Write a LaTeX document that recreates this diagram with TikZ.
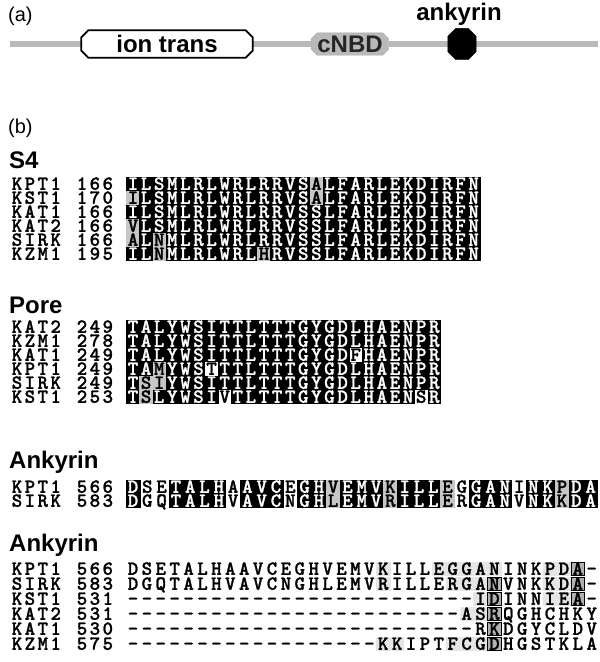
\documentclass[tikz,border=0pt]{standalone}
\usepackage{fontspec}
\setmainfont{Liberation Sans}
\newfontfamily\seqff{lmmonolt10-bold.otf}[FakeBold=1.2]
\pgfdeclarelayer{back}
\pgfsetlayers{back,main}
\newcommand\seqfont{\seqff\fontsize{20}{20}\selectfont}
\newcount\colidx
\def\rep#1#2{\ifnum#1>0 #2\expandafter\rep\expandafter{\the\numexpr#1-1\relax}{#2}\fi}
\newcommand\seqrow[6]{\def\rowid{#1}\def\rowx{#2}\def\rowy{#3}\def\rowdx{#4}\colidx=0
  \edef\tmprow{\noexpand\seqloop#5\relax#6\relax}\tmprow}
\def\seqloop#1#2\relax#3#4\relax{%
  \pgfmathsetmacro\cx{\rowx+\the\colidx*\rowdx}%
  \edef\cellname{\rowid-\the\colidx}%
  \node[cell,cell#3,minimum width=\rowdx pt-0.5pt] (\cellname) at (\cx,\rowy) {#1};%
  \advance\colidx by 1\relax
  \ifx\relax#2\relax\else\seqloop#2\relax#4\relax\fi}
\newcommand\namerow[4]{\seqrow{#1n}{17}{#2}{12.9}{#3}{wwww}\seqrow{#1m}{82}{#2}{12.9}{#4}{www}}
\newcommand\octo[3]{\draw[#3] ([xshift=#2]#1.north west) -- ([xshift=-#2]#1.north east) -- ([yshift=-#2]#1.north east) -- ([yshift=#2]#1.south east) -- ([xshift=-#2]#1.south east) -- ([xshift=#2]#1.south west) -- ([yshift=#2]#1.south west) -- ([yshift=-#2]#1.north west) -- cycle;}
\begin{document}
\begin{tikzpicture}[x=1pt,y=-1pt,
  cell/.style={inner sep=0pt,outer sep=0pt,minimum height=13.4pt,text height=11.5pt,text depth=0pt,font=\seqfont},
  cellw/.style={}, cellb/.style={fill=black,draw=black,line width=0.7pt,text=white},
  cellg/.style={fill=gray!45,draw=gray!45,line width=0.7pt},
  celll/.style={fill=gray!20,draw=gray!20,line width=0.7pt},
  cellx/.style={fill=gray!60,draw=black,line width=1.2pt},
  hdr/.style={anchor=west,inner sep=0pt,font=\bfseries\fontsize{24}{24}\selectfont},
  lbl/.style={anchor=west,inner sep=0pt,font=\fontsize{20}{20}\selectfont},
  dom/.style={inner sep=0pt,font=\bfseries\fontsize{24}{24}\selectfont}]
\useasboundingbox (0,0) rectangle (600,662);
% panel a
\node[lbl] (la) at (8,16) {(a)};
\coordinate (b0) at (10,44);
\coordinate (b1) at (598,44);
\node[dom,minimum width=171pt,minimum height=27pt] (ion) at (167,44) {ion trans};
\node[dom,minimum width=77pt,minimum height=22pt,text=black!85] (cnbd) at (350,44) {cNBD};
\node[inner sep=0pt,minimum width=28pt,minimum height=31pt] (ank) at (462,44) {};
\node[dom] (anklbl) at (459,14) {ankyrin};
\begin{pgfonlayer}{back}
\draw[line width=5.5pt,gray!55] (b0) -- (ion) (ion) -- (cnbd) (cnbd) -- (ank) (ank) -- (b1);
\octo{ion}{7pt}{draw=black,line width=1.8pt,fill=white}
\octo{cnbd}{6pt}{draw=gray!70,fill=gray!55}
\octo{ank}{8pt}{fill=black}
\end{pgfonlayer}
% panel b
\node[lbl] (lb) at (8,128) {(b)};
\node[hdr] (hs4) at (9,160) {S4};
\namerow{s4a}{184}{KPT1}{166}
\seqrow{s4a}{133}{184}{13.1}{ILSMLRLWRLRRVSALFARLEKDIRFN}{\rep{14}{b}g\rep{12}{b}}
\namerow{s4b}{198}{KST1}{170}
\seqrow{s4b}{133}{198}{13.1}{ILSMLRLWRLRRVSALFARLEKDIRFN}{g\rep{13}{b}g\rep{12}{b}}
\namerow{s4c}{212}{KAT1}{166}
\seqrow{s4c}{133}{212}{13.1}{ILSMLRLWRLRRVSSLFARLEKDIRFN}{\rep{27}{b}}
\namerow{s4d}{226}{KAT2}{166}
\seqrow{s4d}{133}{226}{13.1}{VLSMLRLWRLRRVSSLFARLEKDIRFN}{g\rep{26}{b}}
\namerow{s4e}{240}{SIRK}{166}
\seqrow{s4e}{133}{240}{13.1}{ALNMLRLWRLRRVSSLFARLEKDIRFN}{gbg\rep{24}{b}}
\namerow{s4f}{254}{KZM1}{195}
\seqrow{s4f}{133}{254}{13.1}{ILNMLRLWRLHRVSSLFARLEKDIRFN}{bbg\rep{7}{b}g\rep{16}{b}}
% pore
\node[hdr] (hpore) at (9,305) {Pore};
\namerow{pa}{327}{KAT2}{249}
\seqrow{pa}{133}{327}{13.1}{TALYWSITTLTTTGYGDLHAENPR}{\rep{24}{b}}
\namerow{pb}{341}{KZM1}{278}
\seqrow{pb}{133}{341}{13.1}{TALYWSITTLTTTGYGDLHAENPR}{\rep{24}{b}}
\namerow{pc}{355}{KAT1}{249}
\seqrow{pc}{133}{355}{13.1}{TALYWSITTLTTTGYGDFHAENPR}{\rep{17}{b}w\rep{6}{b}}
\namerow{pd}{369}{KPT1}{249}
\seqrow{pd}{133}{369}{13.1}{TAMYWSTTTLTTTGYGDLHAENPR}{bbgbbbw\rep{17}{b}}
\namerow{pe}{383}{SIRK}{249}
\seqrow{pe}{133}{383}{13.1}{TSIYWSITTLTTTGYGDLHAENPR}{bgg\rep{21}{b}}
\namerow{pf}{397}{KST1}{253}
\seqrow{pf}{133}{397}{13.1}{TSLYWSIVTLTTTGYGDLHAENSR}{bg\rep{5}{b}w\rep{14}{b}wb}
% ankyrin 1
\node[hdr] (hank1) at (9,462) {Ankyrin};
\namerow{aa}{487}{KPT1}{566}
\seqrow{aa}{133}{487}{14.3}{DSETALHAAVCEGHVEMVKILLEGGANINKPDA}{bwwbbbbwbbbwbbgbbbgbbbgwbbbwbbgbb}
\namerow{ab}{501}{SIRK}{583}
\seqrow{ab}{133}{501}{14.3}{DGQTALHVAVCNGHLEMVRILLERGANVNKKDA}{bwwbbbbwbbbwbbgbbbgbbbgwbbbwbbgbb}
% ankyrin 2
\node[hdr] (hank2) at (9,545) {Ankyrin};
\namerow{ka}{569}{KPT1}{566}
\seqrow{ka}{133}{569}{13.9}{DSETALHAAVCEGHVEMVKILLEGGANINKPDA-}{\rep{18}{w}l\rep{3}{w}\rep{5}{l}\rep{3}{w}llxw}
\namerow{kb}{584}{SIRK}{583}
\seqrow{kb}{133}{584}{13.9}{DGQTALHVAVCNGHLEMVRILLERGANVNKKDA-}{\rep{18}{w}l\rep{4}{w}lllx\rep{3}{w}llxw}
\namerow{kc}{599}{KST1}{531}
\seqrow{kc}{133}{599}{13.9}{\rep{25}{-}IDINNIEA-}{\rep{25}{w}lx\rep{3}{w}llxw}
\namerow{kd}{614}{KAT2}{531}
\seqrow{kd}{133}{614}{13.9}{\rep{24}{-}ASRQGHCHKY}{\rep{24}{w}llx\rep{7}{w}}
\namerow{ke}{629}{KAT1}{530}
\seqrow{ke}{133}{629}{13.9}{\rep{25}{-}RKDGYCLDV}{\rep{26}{w}x\rep{7}{w}}
\namerow{kf}{644}{KZM1}{575}
\seqrow{kf}{133}{644}{13.9}{\rep{18}{-}KKIPTFCGDHGSTKLA}{\rep{18}{w}ll\rep{3}{w}lllx\rep{7}{w}}
\end{tikzpicture}
\end{document}
